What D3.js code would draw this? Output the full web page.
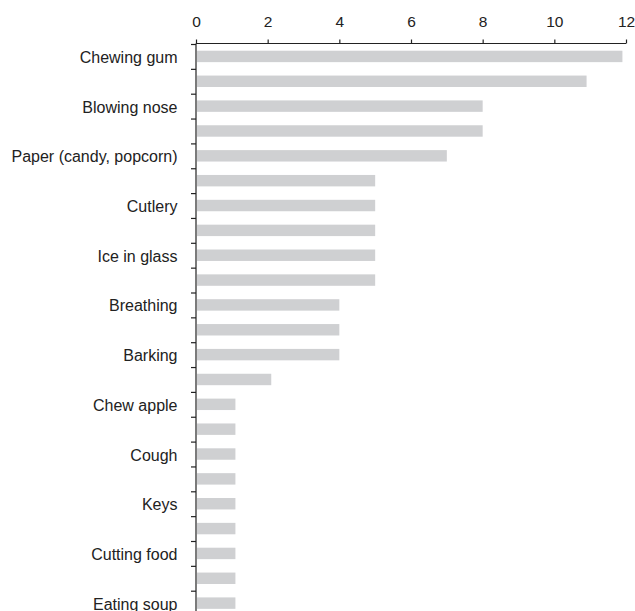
<!DOCTYPE html>
<html>
<head>
<meta charset="utf-8">
<script src="https://cdn.jsdelivr.net/npm/d3@7"></script>
<style>
  body { margin: 0; background: #fff; }
  svg { display: block; font-family: "Liberation Sans", Arial, sans-serif; }
  .axis path, .axis line { stroke: #222; stroke-width: 1.2; }
  .axis text { fill: #222; font-size: 15.5px; font-family: "Liberation Sans", Arial, sans-serif; }
</style>
</head>
<body>
<div id="chart"></div>
<script>
// data (only every other row is labelled)
const labels = [
  "Chewing gum", "", "Blowing nose", "", "Paper (candy, popcorn)", "",
  "Cutlery", "", "Ice in glass", "", "Breathing", "", "Barking", "",
  "Chew apple", "", "Cough", "", "Keys", "", "Cutting food", "", "Eating soup"
];
const values = [
  11.9, 10.9, 8, 8, 7, 5, 5, 5, 5, 5, 4, 4, 4, 2.1,
  1.1, 1.1, 1.1, 1.1, 1.1, 1.1, 1.1, 1.1, 1.1
];
const xTicks = [0, 2, 4, 6, 8, 10, 12];

const W = 635, H = 611;
const margin = { top: 44, left: 196, right: 626 };
const rowStep = 24.85;
const plotBottom = margin.top + rowStep * values.length;

const svg = d3.select("#chart")
  .append("svg")
  .attr("width", W)
  .attr("height", H);

// scales
const x = d3.scaleLinear().domain([0, 12]).range([margin.left, margin.right]);

const y = d3.scaleBand()
  .domain(d3.range(values.length))
  .range([margin.top, plotBottom])
  .paddingInner(0.54)
  .paddingOuter(0.27);

// row boundaries, used for the y tick marks
const yEdge = d3.scaleLinear().domain([0, values.length]).range([margin.top, plotBottom]);

// bars
svg.append("g")
  .selectAll("rect")
  .data(values)
  .join("rect")
  .attr("x", x(0) + 1)
  .attr("y", (d, i) => y(i))
  .attr("width", d => x(d) - x(0) - 1)
  .attr("height", y.bandwidth())
  .attr("fill", "#cfd0d2");

// x axis on top
svg.append("g")
  .attr("class", "axis")
  .attr("transform", `translate(0,${margin.top - 0.5})`)
  .call(d3.axisTop(x).tickValues(xTicks).tickSize(4).tickSizeOuter(0).tickPadding(13))
  .call(g => g.select(".domain").attr("d", `M${margin.left},0H${margin.right}`));

// y axis: ticks sit between rows
svg.append("g")
  .attr("class", "axis")
  .attr("transform", `translate(${margin.left},0)`)
  .call(d3.axisLeft(yEdge).tickValues(d3.range(values.length)).tickFormat("").tickSize(5).tickSizeOuter(0))
  .call(g => g.select(".domain").attr("d", `M0,${margin.top - 0.5}V${H + 10}`));

// category labels
svg.append("g")
  .selectAll("text")
  .data(labels)
  .join("text")
  .attr("x", 177.5)
  .attr("y", (d, i) => y(i) + y.bandwidth() / 2 + 6.5)
  .attr("text-anchor", "end")
  .attr("fill", "#222")
  .style("font-size", "16px")
  .text(d => d);
</script>
</body>
</html>
